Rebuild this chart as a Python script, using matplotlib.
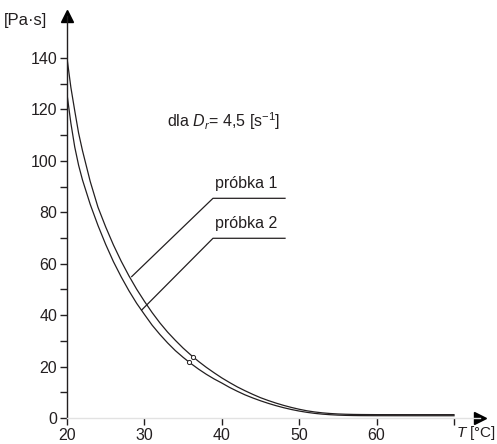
import matplotlib
matplotlib.use("Agg")
import matplotlib.pyplot as plt
import numpy as np

plt.rcParams['font.family'] = ['Liberation Sans', 'DejaVu Sans']
plt.rcParams['mathtext.fontset'] = 'custom'
plt.rcParams['mathtext.rm'] = 'Liberation Sans'
plt.rcParams['mathtext.it'] = 'Liberation Sans:italic'

# temperatura [°C]
temp = [20, 20.5, 21, 21.5, 22, 23, 24, 25, 26, 27, 28, 29, 30, 31, 32, 33, 34, 35, 36, 37, 38, 39,
        40, 41, 42, 43, 44, 45, 46, 47, 48, 49, 50, 51, 52, 53, 54, 55, 56, 57, 58, 60, 65, 70]
# lepkosc [Pa·s]
lepkosc_1 = [140, 128.6, 119.5, 110.8, 104, 92, 82, 74.3, 67.3, 61, 55.3, 50.1, 45.4, 41, 37, 33.4, 30.2, 27.2,
             24.5, 22.0, 19.7, 17.6, 15.6, 13.8, 12.1, 10.6, 9.2, 7.9, 6.8, 5.8, 4.9, 4.1, 3.4, 2.8, 2.35,
             2.0, 1.75, 1.57, 1.46, 1.39, 1.35, 1.31, 1.3, 1.3]
lepkosc_2 = [126, 114.7, 105.4, 98.3, 92.6, 83.1, 74.9, 67.5, 60.8, 54.9, 49.5, 44.6, 40.3, 36.1, 32.5, 29.2,
             26.2, 23.6, 21.2, 19.0, 17.0, 15.2, 13.6, 11.9, 10.4, 9.0, 7.8, 6.7, 5.7, 4.8, 4.0, 3.3, 2.7,
             2.2, 1.8, 1.5, 1.28, 1.12, 1.02, 0.96, 0.92, 0.9, 0.88, 0.88]

# punkty pomiarowe (kolka)
pkt_1 = (36.3, 23.7)
pkt_2 = (35.8, 21.6)

x_ticks = [20, 30, 40, 50, 60, 70]
x_labels = ["20", "30", "40", "50", "60", ""]
y_ticks = [0, 20, 40, 60, 80, 100, 120, 140]
y_minor = [10, 30, 50, 70, 90, 110, 130]

kolor = '#231f20'

fig = plt.figure(figsize=(4.97, 4.44), dpi=100)
ax = fig.add_axes([67 / 497, 26 / 444, 413 / 497, 402 / 444])

ax.plot(temp, lepkosc_1, color=kolor, lw=0.9)
ax.plot(temp, lepkosc_2, color=kolor, lw=0.9)
ax.plot(*pkt_1, 'o', ms=3, mfc='white', mec=kolor, mew=0.7)
ax.plot(*pkt_2, 'o', ms=3, mfc='white', mec=kolor, mew=0.7)

ax.set_xlim(20, 20 + 413 / 7.74)
ax.set_ylim(0, 402 / 2.571)

ax.set_xticks(x_ticks)
ax.set_xticklabels(x_labels)
ax.set_yticks(y_ticks)
ax.set_yticks(y_minor, minor=True)
ax.tick_params(axis='both', which='both', direction='out', length=5, width=1,
               color=kolor, labelsize=11.5, labelcolor=kolor, pad=2)

for s in ['top', 'right']:
    ax.spines[s].set_visible(False)
ax.spines['left'].set_color(kolor)
ax.spines['left'].set_linewidth(1)
ax.spines['bottom'].set_color('#e2e2e2')
ax.spines['bottom'].set_linewidth(1)

# strzalki osi
ax.plot(0, 1, '^', ms=9, color='black', transform=ax.transAxes, clip_on=False)
ax.plot(1, 0, '>', ms=9, color='black', transform=ax.transAxes, clip_on=False)

# opisy osi
fig.text(4 / 497, 1 - 21 / 444, "[Pa·s]", fontsize=12, color=kolor, va='center', ha='left')
fig.text(456 / 497, 1 - 433 / 444, "$T$ [°C]", fontsize=11, color=kolor, va='center', ha='left')

ax.text(32.9, 115.5, "dla $D_r$= 4,5 [s$^{-1}$]", fontsize=11.5, color=kolor, va='center', ha='left')

# odnosniki probek
ax.text(39.1, 91.4, "próbka 1", fontsize=11.5, color=kolor, va='center', ha='left')
ax.text(39.1, 75.8, "próbka 2", fontsize=11.5, color=kolor, va='center', ha='left')
ax.plot([28.36, 38.86, 48.17], [55.0, 85.45, 85.45], color=kolor, lw=0.9)
ax.plot([29.65, 38.86, 48.17], [42.0, 69.9, 69.9], color=kolor, lw=0.9)

fig.savefig("out.png", dpi=100)
